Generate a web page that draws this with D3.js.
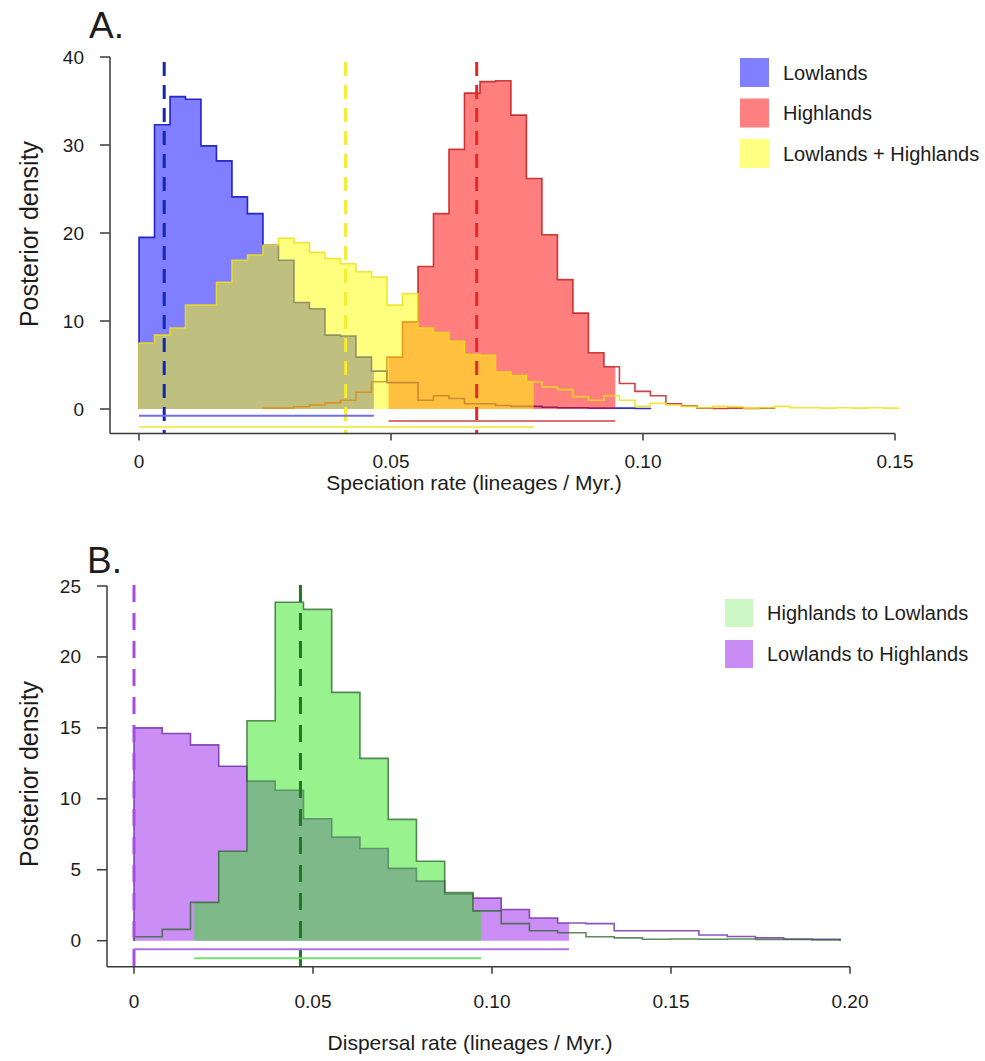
<!DOCTYPE html>
<html>
<head>
<meta charset="utf-8">
<script src="https://cdn.jsdelivr.net/npm/d3@7"></script>
<style>
  body { margin: 0; background: #fff; }
  text { font-family: "Liberation Sans", Arial, Helvetica, sans-serif; fill: #1c1c1c; }
</style>
</head>
<body>
<svg id="chart" width="985" height="1061"></svg>
<script>
// ---------- Panel A: speciation rate posteriors ----------
const speciationBinWidth = 0.003075;
const speciationTicks = [0, 0.05, 0.10, 0.15];
const speciationTickLabels = ["0", "0.05", "0.10", "0.15"];
const densityTicksA = [0, 10, 20, 30, 40];

const lowlandsStartBin = 0;
const lowlandsDensity = [19.5, 32.3, 35.5, 35.2, 29.9, 28.2, 24.1, 22.2, 18.6, 16.9, 12.1, 11.4, 8.4, 8.3, 5.9, 4.3,
  3.0, 3.0, 1.0, 1.5, 1.2, 0.6, 0.6, 0.4, 0.3, 0.3, 0.2, 0.15, 0.15, 0.1, 0.1, 0.1, 0.05];
const lowlandsHPD = [0, 0.0466];
const lowlandsMarker = 0.005;

const highlandsStartBin = 8;
const highlandsDensity = [0.1, 0.1, 0.25, 0.45, 0.7, 1.0, 1.9, 3.1, 5.9, 9.9, 16.2, 22.2, 29.5, 35.9, 37.2, 37.3,
  33.4, 26.2, 19.8, 14.7, 10.9, 6.4, 4.8, 2.9, 2.0, 1.5, 0.6, 0.35, 0.1, 0.05, 0.1, 0.05, 0.1];
const highlandsHPD = [0.0495, 0.0945];
const highlandsMarker = 0.067;

const bothStartBin = 0;
const bothDensity = [7.5, 8.4, 9.2, 11.8, 11.8, 14.4, 16.9, 17.5, 18.6, 19.4, 18.9, 17.8, 17.1, 16.5, 15.6, 15.0,
  11.8, 13.1, 9.2, 8.7, 7.7, 6.2, 6.1, 4.2, 3.8, 3.1, 2.5, 2.2, 1.4, 1.0, 1.5, 1.0, 0.3, 0.65, 0.45, 0.3,
  0.15, 0.3, 0.25, 0.1, 0.15, 0.3, 0.15, 0.15, 0.1, 0.15, 0.1, 0.15, 0.1];
const bothHPD = [0, 0.0783];
const bothMarker = 0.041;

const legendA = ["Lowlands", "Highlands", "Lowlands + Highlands"];

// ---------- Panel B: dispersal rate posteriors ----------
const dispersalBinWidth = 0.00789;
const dispersalTicks = [0, 0.05, 0.10, 0.15, 0.20];
const dispersalTickLabels = ["0", "0.05", "0.10", "0.15", "0.20"];
const densityTicksB = [0, 5, 10, 15, 20, 25];

const lowToHighStartBin = 0;
const lowToHighDensity = [15.0, 14.6, 13.8, 12.3, 11.25, 10.6, 8.6, 7.3, 6.5, 5.1, 4.2, 3.3, 3.0, 2.2, 1.6, 1.25,
  1.2, 0.7, 0.7, 0.7, 0.4, 0.3, 0.2, 0.12, 0.1];
const lowToHighHPD = [0, 0.1215];
const lowToHighMarker = 0.0;

const highToLowStartBin = 0;
const highToLowDensity = [0.28, 0.8, 2.7, 6.3, 15.5, 23.85, 23.35, 17.5, 12.85, 8.55, 5.6, 3.4, 2.1, 1.2, 0.7, 0.56,
  0.28, 0.2, 0.1, 0.12, 0.1, 0.12, 0.08, 0.08, 0.05];
const highToLowHPD = [0.0168, 0.097];
const highToLowMarker = 0.0465;

const legendB = ["Highlands to Lowlands", "Lowlands to Highlands"];

// ---------- drawing ----------
const svg = d3.select("#chart");
svg.append("rect").attr("width", 985).attr("height", 1061).attr("fill", "#fff");
const defs = svg.append("defs");
let clipId = 0;

function histogramPoints(startBin, binWidth, values) {
  const pts = [{ x: startBin * binWidth, y: 0 }];
  values.forEach((v, i) => pts.push({ x: (startBin + i) * binWidth, y: v }));
  const end = (startBin + values.length) * binWidth;
  pts.push({ x: end, y: values[values.length - 1] });
  pts.push({ x: end, y: 0 });
  return pts;
}

function drawHistogram(g, x, y, s) {
  const pts = histogramPoints(s.startBin, s.binWidth, s.values);
  const id = "hpd" + (clipId++);
  // the fill is limited to the 95% interval; the outline covers the whole posterior
  defs.append("clipPath").attr("id", id)
    .append("rect")
    .attr("x", x(s.hpd[0])).attr("width", x(s.hpd[1]) - x(s.hpd[0]))
    .attr("y", y(45)).attr("height", y(0) - y(45) + 1);
  const area = d3.area().curve(d3.curveStepAfter)
    .x(d => x(d.x)).y0(y(0)).y1(d => y(d.y));
  const line = d3.line().curve(d3.curveStepAfter)
    .x(d => x(d.x)).y(d => y(d.y));
  g.append("path").attr("d", area(pts)).attr("fill", s.fill)
    .attr("clip-path", `url(#${id})`);
  g.append("path").attr("d", line(pts)).attr("fill", "none")
    .attr("stroke", s.stroke).attr("stroke-width", 1.6);
}

function drawPanel(cfg) {
  const { x, y, g } = cfg;
  cfg.series.forEach(s => drawHistogram(g, x, y, s));

  // dashed marker lines
  cfg.series.forEach(s => {
    g.append("line")
      .attr("x1", x(s.marker)).attr("x2", x(s.marker))
      .attr("y1", cfg.markerTop).attr("y2", cfg.axisY)
      .attr("stroke", s.markerColor).attr("stroke-width", 3)
      .attr("stroke-dasharray", cfg.dash);
  });

  // interval bars under the histograms
  cfg.series.forEach(s => {
    g.append("line")
      .attr("x1", x(s.hpd[0])).attr("x2", x(s.hpd[1]))
      .attr("y1", y(0) + s.barOffset).attr("y2", y(0) + s.barOffset)
      .attr("stroke", s.barColor).attr("stroke-width", 2);
  });

  // axes
  const axisColor = "#3a3a3a";
  g.append("line").attr("x1", cfg.axisX).attr("x2", cfg.axisX)
    .attr("y1", y(cfg.yTicks[cfg.yTicks.length - 1])).attr("y2", cfg.axisY)
    .attr("stroke", axisColor).attr("stroke-width", 1.5);
  g.append("line").attr("x1", cfg.axisX).attr("x2", x(cfg.xTicks[cfg.xTicks.length - 1]))
    .attr("y1", cfg.axisY).attr("y2", cfg.axisY)
    .attr("stroke", axisColor).attr("stroke-width", 1.5);

  cfg.xTicks.forEach((t, i) => {
    g.append("line").attr("x1", x(t)).attr("x2", x(t))
      .attr("y1", cfg.axisY).attr("y2", cfg.axisY + 7)
      .attr("stroke", axisColor).attr("stroke-width", 1.5);
    g.append("text").attr("x", x(t)).attr("y", cfg.axisY + cfg.xLabelGap)
      .attr("text-anchor", "middle").attr("font-size", 19)
      .text(cfg.xTickLabels[i]);
  });
  cfg.yTicks.forEach(t => {
    g.append("line").attr("x1", cfg.axisX - 10).attr("x2", cfg.axisX)
      .attr("y1", y(t)).attr("y2", y(t))
      .attr("stroke", axisColor).attr("stroke-width", 1.5);
    g.append("text").attr("x", cfg.axisX - 26).attr("y", y(t) + 6.5)
      .attr("text-anchor", "end").attr("font-size", 19)
      .text(t);
  });

  g.append("text").attr("x", cfg.xTitle[0]).attr("y", cfg.xTitle[1])
    .attr("text-anchor", "middle").attr("font-size", 21).text(cfg.xTitleText);
  g.append("text")
    .attr("transform", `translate(${cfg.yTitle[0]},${cfg.yTitle[1]}) rotate(-90)`)
    .attr("text-anchor", "middle").attr("font-size", 25).text("Posterior density");
  g.append("text").attr("x", cfg.letter[0]).attr("y", cfg.letter[1])
    .attr("font-size", 37).text(cfg.letterText);

  // legend
  cfg.legend.forEach((label, i) => {
    const ly = cfg.legendY + i * cfg.legendStep;
    g.append("rect").attr("x", cfg.legendX).attr("y", ly)
      .attr("width", cfg.swatch).attr("height", cfg.swatch)
      .attr("fill", cfg.legendColors[i]);
    g.append("text").attr("x", cfg.legendX + cfg.swatch + 14).attr("y", ly + cfg.swatch / 2 + 7)
      .attr("font-size", 20).text(label);
  });
}

// Panel A
const xA = d3.scaleLinear().domain([0, 0.15]).range([139, 895]);
const yA = d3.scaleLinear().domain([0, 40]).range([409, 57]);
drawPanel({
  g: svg.append("g"), x: xA, y: yA,
  axisX: 110, axisY: 433.5, markerTop: 62, dash: "14,9", xLabelGap: 34,
  xTicks: speciationTicks, xTickLabels: speciationTickLabels, yTicks: densityTicksA,
  xTitle: [474, 490], xTitleText: "Speciation rate (lineages / Myr.)",
  yTitle: [38, 234], letter: [89, 38], letterText: "A.",
  legend: legendA, legendX: 740, legendY: 58, legendStep: 40.5, swatch: 29,
  legendColors: ["#8080ff", "#ff8080", "#ffff80"],
  series: [
    { startBin: lowlandsStartBin, binWidth: speciationBinWidth, values: lowlandsDensity, hpd: lowlandsHPD,
      marker: lowlandsMarker, fill: "rgba(0,0,255,0.5)", stroke: "rgba(10,10,190,0.85)",
      markerColor: "#1426b4", barColor: "#7070e6", barOffset: 6.7 },
    { startBin: highlandsStartBin, binWidth: speciationBinWidth, values: highlandsDensity, hpd: highlandsHPD,
      marker: highlandsMarker, fill: "rgba(255,0,0,0.5)", stroke: "rgba(190,20,20,0.8)",
      markerColor: "#e82828", barColor: "#dc7070", barOffset: 12 },
    { startBin: bothStartBin, binWidth: speciationBinWidth, values: bothDensity, hpd: bothHPD,
      marker: bothMarker, fill: "rgba(255,255,0,0.5)", stroke: "rgba(240,225,20,0.85)",
      markerColor: "#f5ec2a", barColor: "#f4ec60", barOffset: 18 }
  ]
});

// Panel B
const xB = d3.scaleLinear().domain([0, 0.20]).range([134, 850]);
const yB = d3.scaleLinear().domain([0, 25]).range([940.7, 586]);
drawPanel({
  g: svg.append("g"), x: xB, y: yB,
  axisX: 107, axisY: 966.7, markerTop: 585, dash: "17,11", xLabelGap: 41,
  xTicks: dispersalTicks, xTickLabels: dispersalTickLabels, yTicks: densityTicksB,
  xTitle: [470, 1050], xTitleText: "Dispersal rate (lineages / Myr.)",
  yTitle: [38, 774], letter: [87, 573], letterText: "B.",
  legend: legendB, legendX: 725, legendY: 599, legendStep: 41, swatch: 28,
  legendColors: ["#ccf6c4", "#c98cf4"],
  series: [
    { startBin: lowToHighStartBin, binWidth: dispersalBinWidth, values: lowToHighDensity, hpd: lowToHighHPD,
      marker: lowToHighMarker, fill: "rgba(150,30,235,0.5)", stroke: "rgba(110,40,160,0.8)",
      markerColor: "#a64ce0", barColor: "#b070e0", barOffset: 8.6 },
    { startBin: highToLowStartBin, binWidth: dispersalBinWidth, values: highToLowDensity, hpd: highToLowHPD,
      marker: highToLowMarker, fill: "rgba(50,230,30,0.5)", stroke: "rgba(40,100,40,0.75)",
      markerColor: "#1f7a1f", barColor: "#78dc6e", barOffset: 17.6 }
  ]
});
</script>
</body>
</html>
